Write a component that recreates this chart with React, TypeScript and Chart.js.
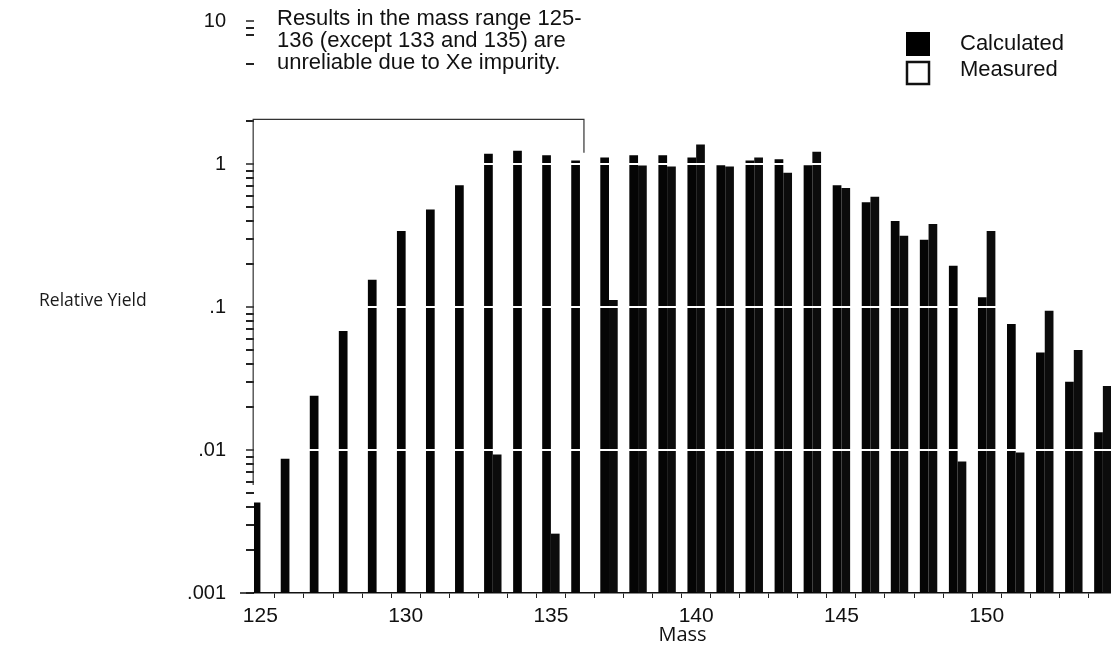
import React, { useEffect, useRef } from 'react';
import { Chart, registerables } from 'chart.js';

Chart.register(...registerables);

// ---- data ----
const masses = [125, 126, 127, 128, 129, 130, 131, 132, 133, 134, 135, 136, 137, 138, 139, 140, 141, 142, 143, 144, 145, 146, 147, 148, 149, 150, 151, 152, 153, 154];
const calculated = [0.0043, 0.0087, 0.024, 0.068, 0.155, 0.34, 0.48, 0.71, 1.18, 1.24, 1.15, 1.06, 1.11, 1.15, 1.15, 1.11, 0.98, 1.06, 1.08, 0.98, 0.71, 0.54, 0.40, 0.295, 0.194, 0.117, 0.076, 0.048, 0.030, 0.0133];
const measured: (number | null)[] = [null, null, null, null, null, null, null, null, 0.0093, null, 0.0026, null, 0.112, 0.975, 0.96, 1.37, 0.96, 1.11, 0.87, 1.22, 0.68, 0.59, 0.315, 0.38, 0.0083, 0.34, 0.0096, 0.094, 0.050, 0.028];
const xTickLabels = [125, 130, 135, 140, 145, 150];
const yMajorTicks = [0.001, 0.01, 0.1, 1, 10];
const yMajorLabels = ['.001', '.01', '.1', '1', '10'];
const yMinorTicks = [0.002, 0.003, 0.004, 0.005, 0.006, 0.007, 0.008, 0.009, 0.02, 0.03, 0.04, 0.05, 0.06, 0.07, 0.08, 0.09, 0.2, 0.3, 0.4, 0.5, 0.6, 0.7, 0.8, 0.9, 2, 5, 8, 9];
const whiteGridValues = [0.01, 0.1, 1];
const noteLines = ['Results in the mass range 125-', '136 (except 133 and 135) are', 'unreliable due to Xe impurity.'];
const legendLabels = ['Calculated', 'Measured'];
const yAxisTitle = 'Relative Yield';
const xAxisTitle = 'Mass';

const near = (a: number, b: number) => Math.abs(Math.log10(a) - Math.log10(b)) < 1e-6;

const overlayPlugin = {
  id: 'overlay',
  afterDraw(chart: any) {
    const ctx = chart.ctx as CanvasRenderingContext2D;
    const ys = chart.scales.y;
    const area = chart.chartArea;
    const meta = chart.getDatasetMeta(0);
    const b0 = meta.data[0] as any;
    const b136 = meta.data[masses.indexOf(136)] as any;
    ctx.save();
    // extend baseline to the left
    ctx.strokeStyle = '#111';
    ctx.lineWidth = 1.5;
    ctx.beginPath();
    ctx.moveTo(240, area.bottom);
    ctx.lineTo(area.left, area.bottom);
    ctx.stroke();

    // bracket
    const leftX = b0.x - b0.width / 2 + 1.5;
    const rightX = b136.x + b136.width / 2 + 4;
    const topY = ys.getPixelForValue(2.05);
    ctx.strokeStyle = '#333';
    ctx.lineWidth = 1.2;
    ctx.beginPath();
    ctx.moveTo(leftX, ys.getPixelForValue(0.0057));
    ctx.lineTo(leftX, topY);
    ctx.lineTo(rightX, topY);
    ctx.lineTo(rightX, ys.getPixelForValue(1.2));
    ctx.stroke();

    // note text
    ctx.fillStyle = '#111';
    ctx.font = '22px "Liberation Sans", Arial, sans-serif';
    ctx.textAlign = 'left';
    ctx.textBaseline = 'alphabetic';
    noteLines.forEach((t, i) => ctx.fillText(t, 277, 25 + i * 22));

    // legend
    ctx.fillStyle = '#000';
    ctx.fillRect(906, 32, 24, 24);
    ctx.fillStyle = '#fff';
    ctx.fillRect(907, 62, 22, 22);
    ctx.strokeStyle = '#111';
    ctx.lineWidth = 2.5;
    ctx.strokeRect(907, 62, 22, 22);
    ctx.fillStyle = '#111';
    ctx.fillText(legendLabels[0], 960, 50);
    ctx.fillText(legendLabels[1], 960, 76);

    // y title (horizontal)
    ctx.font = '17.5px "Open Sans", sans-serif';
    ctx.textBaseline = 'middle';
    ctx.fillStyle = '#1a1a1a';
    ctx.fillText(yAxisTitle, 39, 301);
    ctx.restore();
  },
};

export default function App() {
  const ref = useRef<HTMLCanvasElement | null>(null);
  useEffect(() => {
    if (!ref.current) return;
    const numFont = { family: '"Liberation Sans", Arial, sans-serif', size: 21 };
    const chart = new Chart(ref.current, {
      type: 'bar',
      data: {
        datasets: [
          {
            label: legendLabels[0],
            data: masses.map((m, i) => ({ x: m, y: calculated[i] })),
            backgroundColor: '#050505',
            borderWidth: 0,
            categoryPercentage: 0.6,
            barPercentage: 1.0,
          },
          {
            label: legendLabels[1],
            data: masses.map((m, i) => ({ x: m, y: measured[i] })),
            backgroundColor: '#0c0c0c',
            borderWidth: 0,
            categoryPercentage: 0.6,
            barPercentage: 1.0,
          },
        ],
      } as any,
      options: {
        animation: false,
        responsive: true,
        maintainAspectRatio: false,
        layout: { padding: { top: 21, right: 0, bottom: 0, left: 0 } },
        plugins: { legend: { display: false }, tooltip: { enabled: false } },
        scales: {
          x: {
            type: 'linear',
            min: 124.78,
            max: 154.28,
            offset: false,
            afterBuildTicks: (s: any) => {
              s.ticks = masses.map((v) => ({ value: v }));
            },
            afterFit: (s: any) => {
              s.height = 59;
              s.paddingLeft = 0;
              s.paddingRight = 0;
            },
            ticks: {
              autoSkip: false,
              maxRotation: 0,
              color: '#111',
              font: numFont,
              padding: 6,
              callback: (v: any) => (xTickLabels.includes(Number(v)) ? String(v) : ''),
            },
            grid: { drawOnChartArea: false, drawTicks: true, tickLength: 5, tickColor: '#222', tickWidth: 1 },
            border: { display: true, color: '#111', width: 1.5 },
            title: {
              display: true,
              text: xAxisTitle,
              color: '#111',
              font: { family: '"Open Sans", sans-serif', size: 20 },
              padding: { top: 0, bottom: 5 },
            },
          },
          y: {
            type: 'logarithmic',
            min: 0.001,
            max: 10,
            afterBuildTicks: (s: any) => {
              s.ticks = [...yMajorTicks, ...yMinorTicks].sort((a, b) => a - b).map((v) => ({ value: v }));
            },
            afterFit: (s: any) => {
              s.width = 254;
              s.paddingTop = 0;
              s.paddingBottom = 0;
            },
            ticks: {
              autoSkip: false,
              color: '#111',
              font: { family: '"Liberation Sans", Arial, sans-serif', size: 20 },
              padding: 20,
              callback: (v: any) => {
                const i = yMajorTicks.findIndex((m) => near(m, Number(v)));
                return i >= 0 ? yMajorLabels[i] : '';
              },
            },
            grid: {
              drawOnChartArea: true,
              z: 1,
              color: (c: any) => (c.tick && whiteGridValues.some((w) => near(w, c.tick.value)) ? '#ffffff' : 'rgba(0,0,0,0)'),
              lineWidth: (c: any) => (c.tick && whiteGridValues.some((w) => near(w, c.tick.value)) ? 2 : 0),
              drawTicks: true,
              tickLength: 8,
              tickColor: '#222',
              tickWidth: (c: any) => (c.tick && yMajorTicks.some((w) => near(w, c.tick.value)) ? 1.5 : 2),
            },
            border: { display: false },
          },
        },
      } as any,
      plugins: [overlayPlugin],
    });
    return () => chart.destroy();
  }, []);
  return (
    <div style={{ position: 'absolute', left: 0, top: 0, width: 1111, height: 652, background: '#fff' }}>
      <canvas ref={ref} />
    </div>
  );
}
